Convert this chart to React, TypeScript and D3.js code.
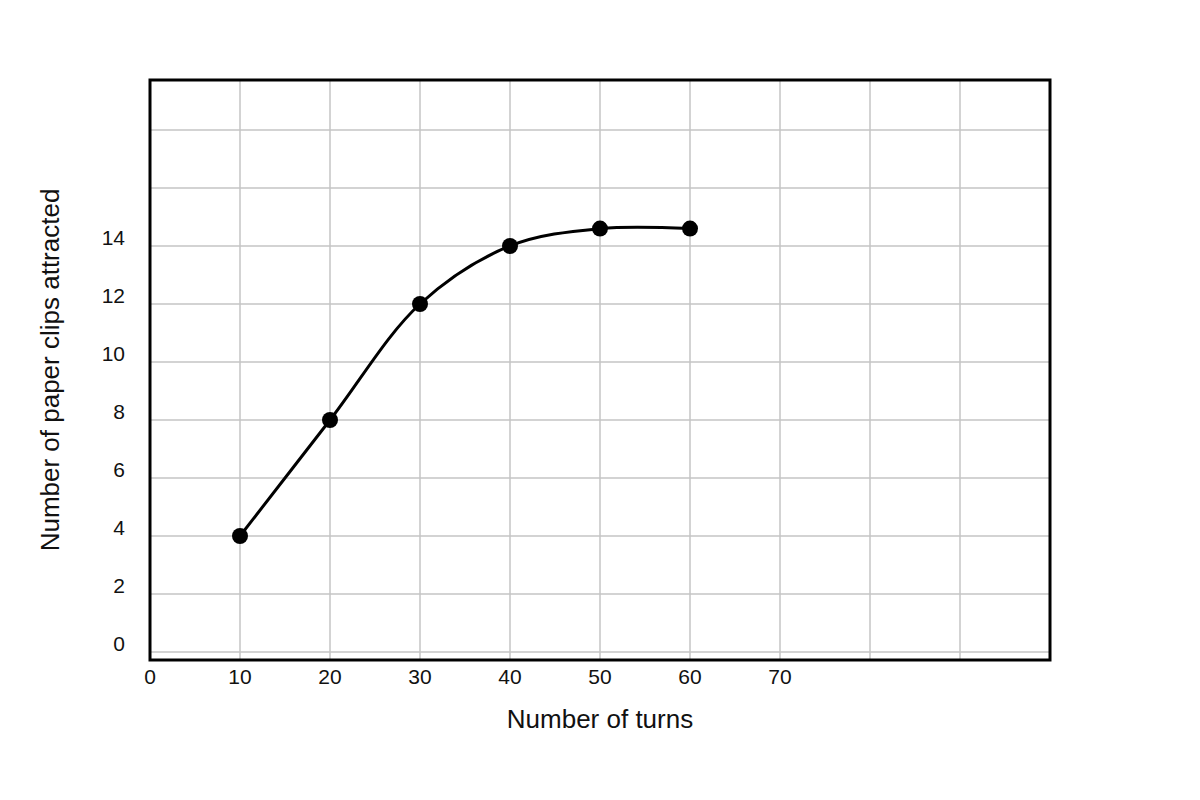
import React from "react";
import * as d3 from "d3";

const turns = [10, 20, 30, 40, 50, 60];
const clips = [4, 8, 12, 14, 14.6, 14.6];
const xTickLabels = [0, 10, 20, 30, 40, 50, 60, 70];
const yTickLabels = [0, 2, 4, 6, 8, 10, 12, 14];
const xGrid = [10, 20, 30, 40, 50, 60, 70, 80, 90];
const yGrid = [0, 2, 4, 6, 8, 10, 12, 14, 16, 18];

export default function App() {
  const W = 1200, H = 800;
  const left = 150, right = 1050, top = 80, bottom = 660;
  const x = d3.scaleLinear().domain([0, 100]).range([left, right]);
  const y = d3.scaleLinear().domain([0, 18]).range([652, 130]);
  const data = turns.map((t, i) => [t, clips[i]] as [number, number]);
  const line = d3
    .line<[number, number]>()
    .x((d) => x(d[0]))
    .y((d) => y(d[1]))
    .curve(d3.curveCatmullRom.alpha(0.5));
  const font = "'Liberation Sans', Arial, sans-serif";
  return (
    <svg width={W} height={H} style={{ position: "absolute", left: 0, top: 0, background: "#fff" }} fontFamily={font}>
      <rect x={0} y={0} width={W} height={H} fill="#fff" />
      {xGrid.map((v) => (
        <line key={"xg" + v} x1={x(v)} x2={x(v)} y1={top} y2={bottom} stroke="#c4c4c4" strokeWidth={1.5} />
      ))}
      {yGrid.map((v) => (
        <line key={"yg" + v} x1={left} x2={right} y1={y(v)} y2={y(v)} stroke="#c4c4c4" strokeWidth={1.5} />
      ))}
      <rect x={left} y={top} width={right - left} height={bottom - top} fill="none" stroke="#000" strokeWidth={3} />
      <path d={line(data) || ""} fill="none" stroke="#000" strokeWidth={3} />
      {data.map((d, i) => (
        <circle key={i} cx={x(d[0])} cy={y(d[1])} r={8} fill="#000" />
      ))}
      {yTickLabels.map((v) => (
        <text key={"yl" + v} x={125} y={y(v) - 7} textAnchor="end" dominantBaseline="middle" fontSize={21} fill="#111">
          {v}
        </text>
      ))}
      {xTickLabels.map((v) => (
        <text key={"xl" + v} x={x(v)} y={678} textAnchor="middle" dominantBaseline="middle" fontSize={21} fill="#111">
          {v}
        </text>
      ))}
      <text x={600} y={721} textAnchor="middle" dominantBaseline="middle" fontSize={26} fill="#111">
        Number of turns
      </text>
      <text
        transform={`translate(52,370) rotate(-90)`}
        textAnchor="middle"
        dominantBaseline="middle"
        fontSize={26}
        fill="#111"
      >
        Number of paper clips attracted
      </text>
    </svg>
  );
}
